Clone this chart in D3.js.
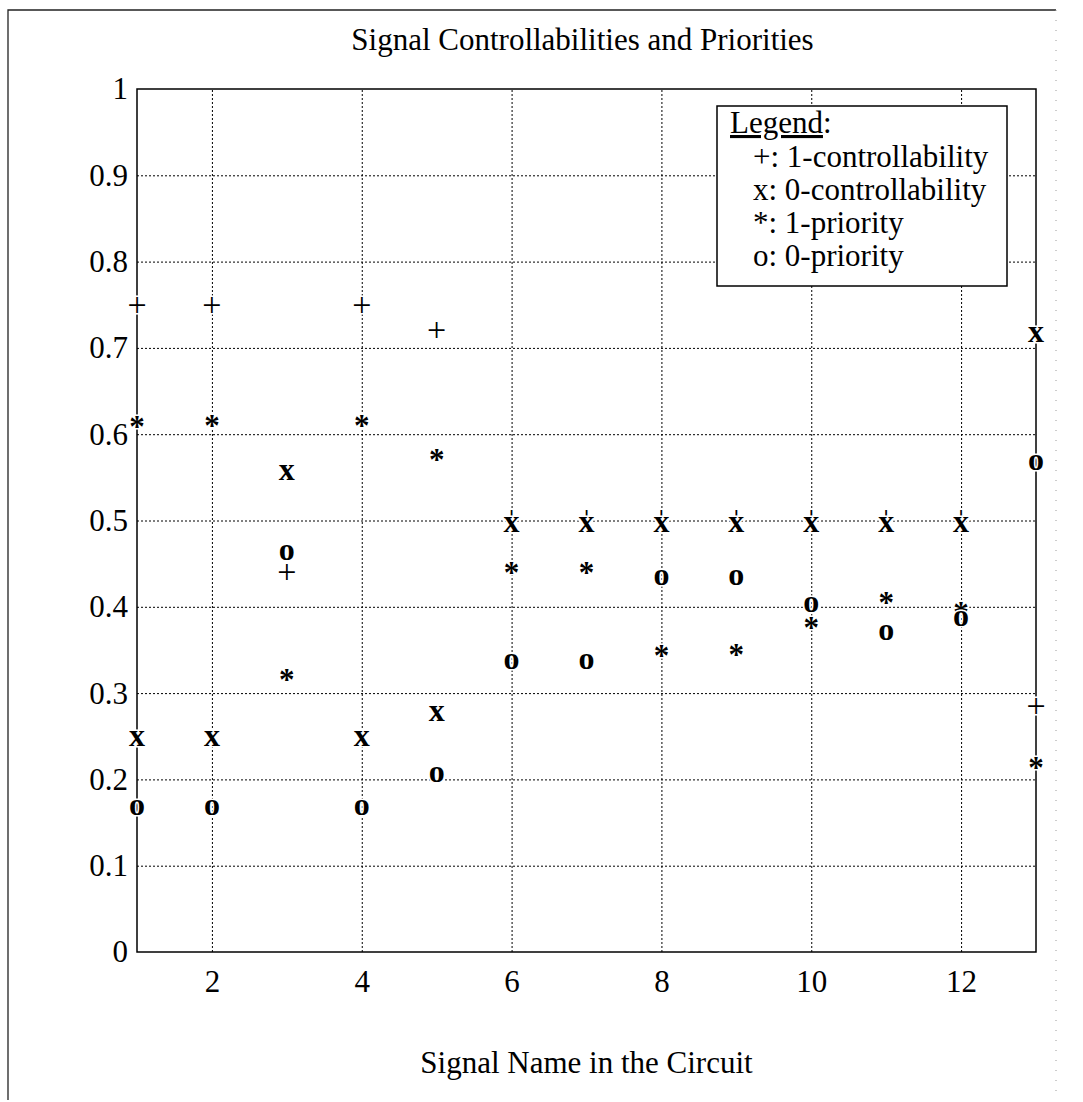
<!DOCTYPE html>
<html>
<head>
<meta charset="utf-8">
<script src="https://cdn.jsdelivr.net/npm/d3@7"></script>
<style>
  body { margin: 0; background: #fff; }
  text { font-family: "Liberation Serif", "Times New Roman", serif; fill: #000; }
</style>
</head>
<body>
<svg id="chart"></svg>
<script>
// signal index on the x axis
var signals = [1, 2, 3, 4, 5, 6, 7, 8, 9, 10, 11, 12, 13];
// values
var ctrl1 = [0.747, 0.747, 0.437, 0.747, 0.718, 0.5, 0.5, 0.5, 0.5, 0.5, 0.5, 0.5, 0.282];
var ctrl0 = [0.247, 0.247, 0.556, 0.247, 0.276, 0.495, 0.495, 0.495, 0.495, 0.495, 0.495, 0.495, 0.715];
var prio1 = [0.614, 0.615, 0.32, 0.615, 0.575, 0.445, 0.444, 0.348, 0.349, 0.381, 0.41, 0.398, 0.218];
var prio0 = [0.167, 0.167, 0.463, 0.167, 0.206, 0.337, 0.337, 0.434, 0.434, 0.402, 0.37, 0.386, 0.567];
var xTicks = [2, 4, 6, 8, 10, 12];
var yTicks = [0, 0.1, 0.2, 0.3, 0.4, 0.5, 0.6, 0.7, 0.8, 0.9, 1];
var legendLines = ["+: 1-controllability", "x: 0-controllability", "*: 1-priority", "o: 0-priority"];

var svgWidth = 1083, svgHeight = 1102;
var plotLeft = 137, plotRight = 1036, plotTop = 89, plotBottom = 952;

var svg = d3.select("#chart")
    .attr("width", svgWidth)
    .attr("height", svgHeight);

svg.append("rect").attr("width", svgWidth).attr("height", svgHeight).attr("fill", "#fff");

// page frame from the scan
svg.append("path")
    .attr("d", "M8,1100 V10 H1056")
    .attr("fill", "none").attr("stroke", "#222").attr("stroke-width", 1.3);
svg.append("line")
    .attr("x1", 1056).attr("x2", 1056).attr("y1", 10).attr("y2", 1100)
    .attr("stroke", "#999").attr("stroke-width", 1).attr("stroke-dasharray", "1,9");

var x = d3.scaleLinear().domain([1, 13]).range([plotLeft, plotRight]);
var y = d3.scaleLinear().domain([0, 1]).range([plotBottom, plotTop]);

// dotted grid
svg.append("g")
    .attr("class", "grid")
    .attr("transform", "translate(0," + plotBottom + ")")
    .call(d3.axisBottom(x).tickValues(xTicks).tickSize(-(plotBottom - plotTop)).tickFormat(""))
    .call(function(g){ g.select(".domain").remove(); });
svg.append("g")
    .attr("class", "grid")
    .attr("transform", "translate(" + plotLeft + ",0)")
    .call(d3.axisLeft(y).tickValues(yTicks.slice(1, -1)).tickSize(-(plotRight - plotLeft)).tickFormat(""))
    .call(function(g){ g.select(".domain").remove(); });
svg.selectAll(".grid line")
    .attr("stroke", "#000")
    .attr("stroke-width", 1)
    .attr("stroke-dasharray", "2,2");

// tick labels
var xAxis = svg.append("g")
    .attr("transform", "translate(0," + plotBottom + ")")
    .call(d3.axisBottom(x).tickValues(xTicks).tickSize(0).tickPadding(18));
xAxis.select(".domain").remove();
xAxis.selectAll("text")
    .attr("font-size", "31px")
    .attr("font-family", "Liberation Serif")
    .attr("dy", "0.71em");

var yAxis = svg.append("g")
    .attr("transform", "translate(" + plotLeft + ",0)")
    .call(d3.axisLeft(y).tickValues(yTicks).tickSize(0).tickPadding(9).tickFormat(d3.format("~g")));
yAxis.select(".domain").remove();
yAxis.selectAll("text")
    .attr("font-size", "31px")
    .attr("font-family", "Liberation Serif");

// plot box
svg.append("rect")
    .attr("x", plotLeft).attr("y", plotTop)
    .attr("width", plotRight - plotLeft).attr("height", plotBottom - plotTop)
    .attr("fill", "none").attr("stroke", "#000").attr("stroke-width", 1.5);

// markers are glyphs, with a white halo like the scan
var series = [
    { values: ctrl1, glyph: "+", size: 34, weight: "normal", lift: 0.25 },
    { values: ctrl0, glyph: "x", size: 32, weight: "bold", lift: 0.23 },
    { values: prio1, glyph: "*", size: 31, weight: "bold", lift: 0.47 },
    { values: prio0, glyph: "o", size: 32, weight: "bold", lift: 0.23 }
];

series.forEach(function(s){
    svg.append("g").selectAll("text")
        .data(s.values)
        .enter()
        .append("text")
        .attr("x", function(d, i){ return x(signals[i]); })
        .attr("y", function(d){ return y(d) + s.lift * s.size; })
        .attr("text-anchor", "middle")
        .attr("font-size", s.size + "px")
        .attr("font-weight", s.weight)
        .attr("stroke", "#fff")
        .attr("stroke-width", 3)
        .attr("paint-order", "stroke")
        .text(s.glyph);
});

// title and axis label
svg.append("text")
    .attr("x", (plotLeft + plotRight) / 2 - 4)
    .attr("y", 50)
    .attr("text-anchor", "middle")
    .attr("font-size", "31px")
    .text("Signal Controllabilities and Priorities");

svg.append("text")
    .attr("x", (plotLeft + plotRight) / 2)
    .attr("y", 1073)
    .attr("text-anchor", "middle")
    .attr("font-size", "31px")
    .text("Signal Name in the Circuit");

// legend box
var legend = svg.append("g");
legend.append("rect")
    .attr("x", 717).attr("y", 106)
    .attr("width", 290).attr("height", 180)
    .attr("fill", "#fff").attr("stroke", "#000").attr("stroke-width", 1.5);

var head = legend.append("text")
    .attr("x", 730).attr("y", 133)
    .attr("font-size", "31px");
head.append("tspan").attr("text-decoration", "underline").text("Legend");
head.append("tspan").text(":");

legend.selectAll(".item")
    .data(legendLines)
    .enter()
    .append("text")
    .attr("class", "item")
    .attr("x", 753)
    .attr("y", function(d, i){ return 167 + i * 33; })
    .attr("font-size", "31px")
    .text(function(d){ return d; });
</script>
</body>
</html>
